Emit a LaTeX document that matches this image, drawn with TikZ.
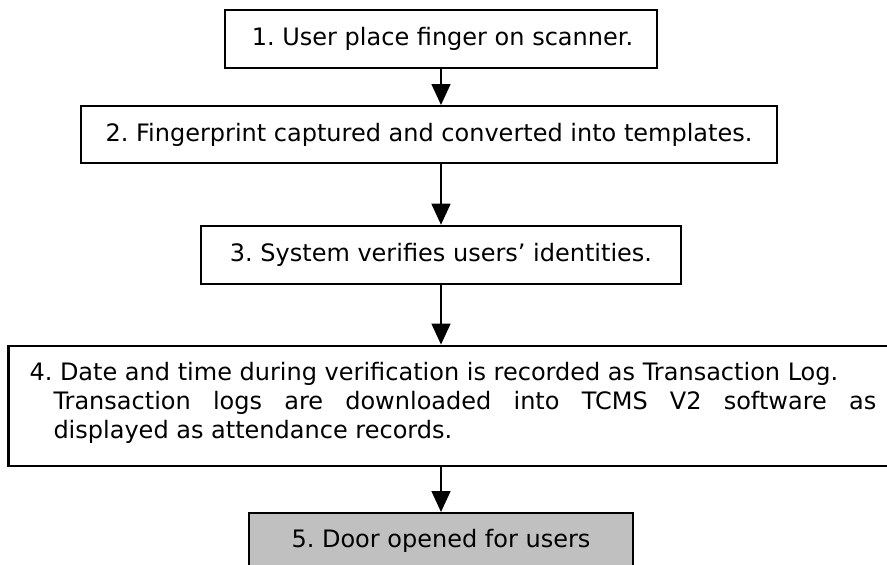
\documentclass[tikz,border=0pt]{standalone}
\usepackage{fontspec}
\setmainfont{DejaVu Sans}
\usetikzlibrary{arrows.meta}
\frenchspacing
\begin{document}
\begin{tikzpicture}[x=1pt,y=-1pt,
  box/.style={draw=black,line width=2pt,inner sep=0pt,font=\fontsize{24}{29}\selectfont},
  conn/.style={line width=1.6pt,-{Triangle[width=19pt,length=21pt]}},
  txt/.style={inner sep=0pt,anchor=base west,font=\fontsize{24}{29}\selectfont}]
\useasboundingbox (0,0) rectangle (887,565);
\node[box,minimum width=432.3pt,minimum height=57.7pt] (b1) at (441,38.8) {\hspace*{3pt}1. User place finger on scanner.};
\node[box,minimum width=696pt,minimum height=57pt] (b2) at (429,134.5) {2. Fingerprint captured and converted into templates.};
\node[box,minimum width=480.3pt,minimum height=58pt] (b3) at (441,254.7) {3. System verifies users’ identities.};
\node[box,line width=2.3pt,minimum width=891.7pt,minimum height=120pt] (b4) at (454.2,405.7) {};
\node[txt] (t4a) at (29.3,380.7) {4. Date and time during verification is recorded as Transaction Log.};
\node[txt] (t4b) at (53.3,409.3) {\makebox[822.7pt][s]{Transaction logs are downloaded into TCMS V2 software as}};
\node[txt] (t4c) at (53.3,438.3) {displayed as attendance records.};
\node[box,fill={rgb,255:red,192;green,192;blue,192},minimum width=384.2pt,minimum height=56.6pt] (b5) at (441,541.3) {5. Door opened for users};
\draw[conn] (b1.south) -- (b1.south |- b2.north);
\draw[conn] (b1.south |- b2.south) -- (b3.north);
\draw[conn] (b3.south) -- (b3.south |- b4.north);
\draw[conn] (b5.north |- b4.south) -- (b5.north);
\end{tikzpicture}
\end{document}
